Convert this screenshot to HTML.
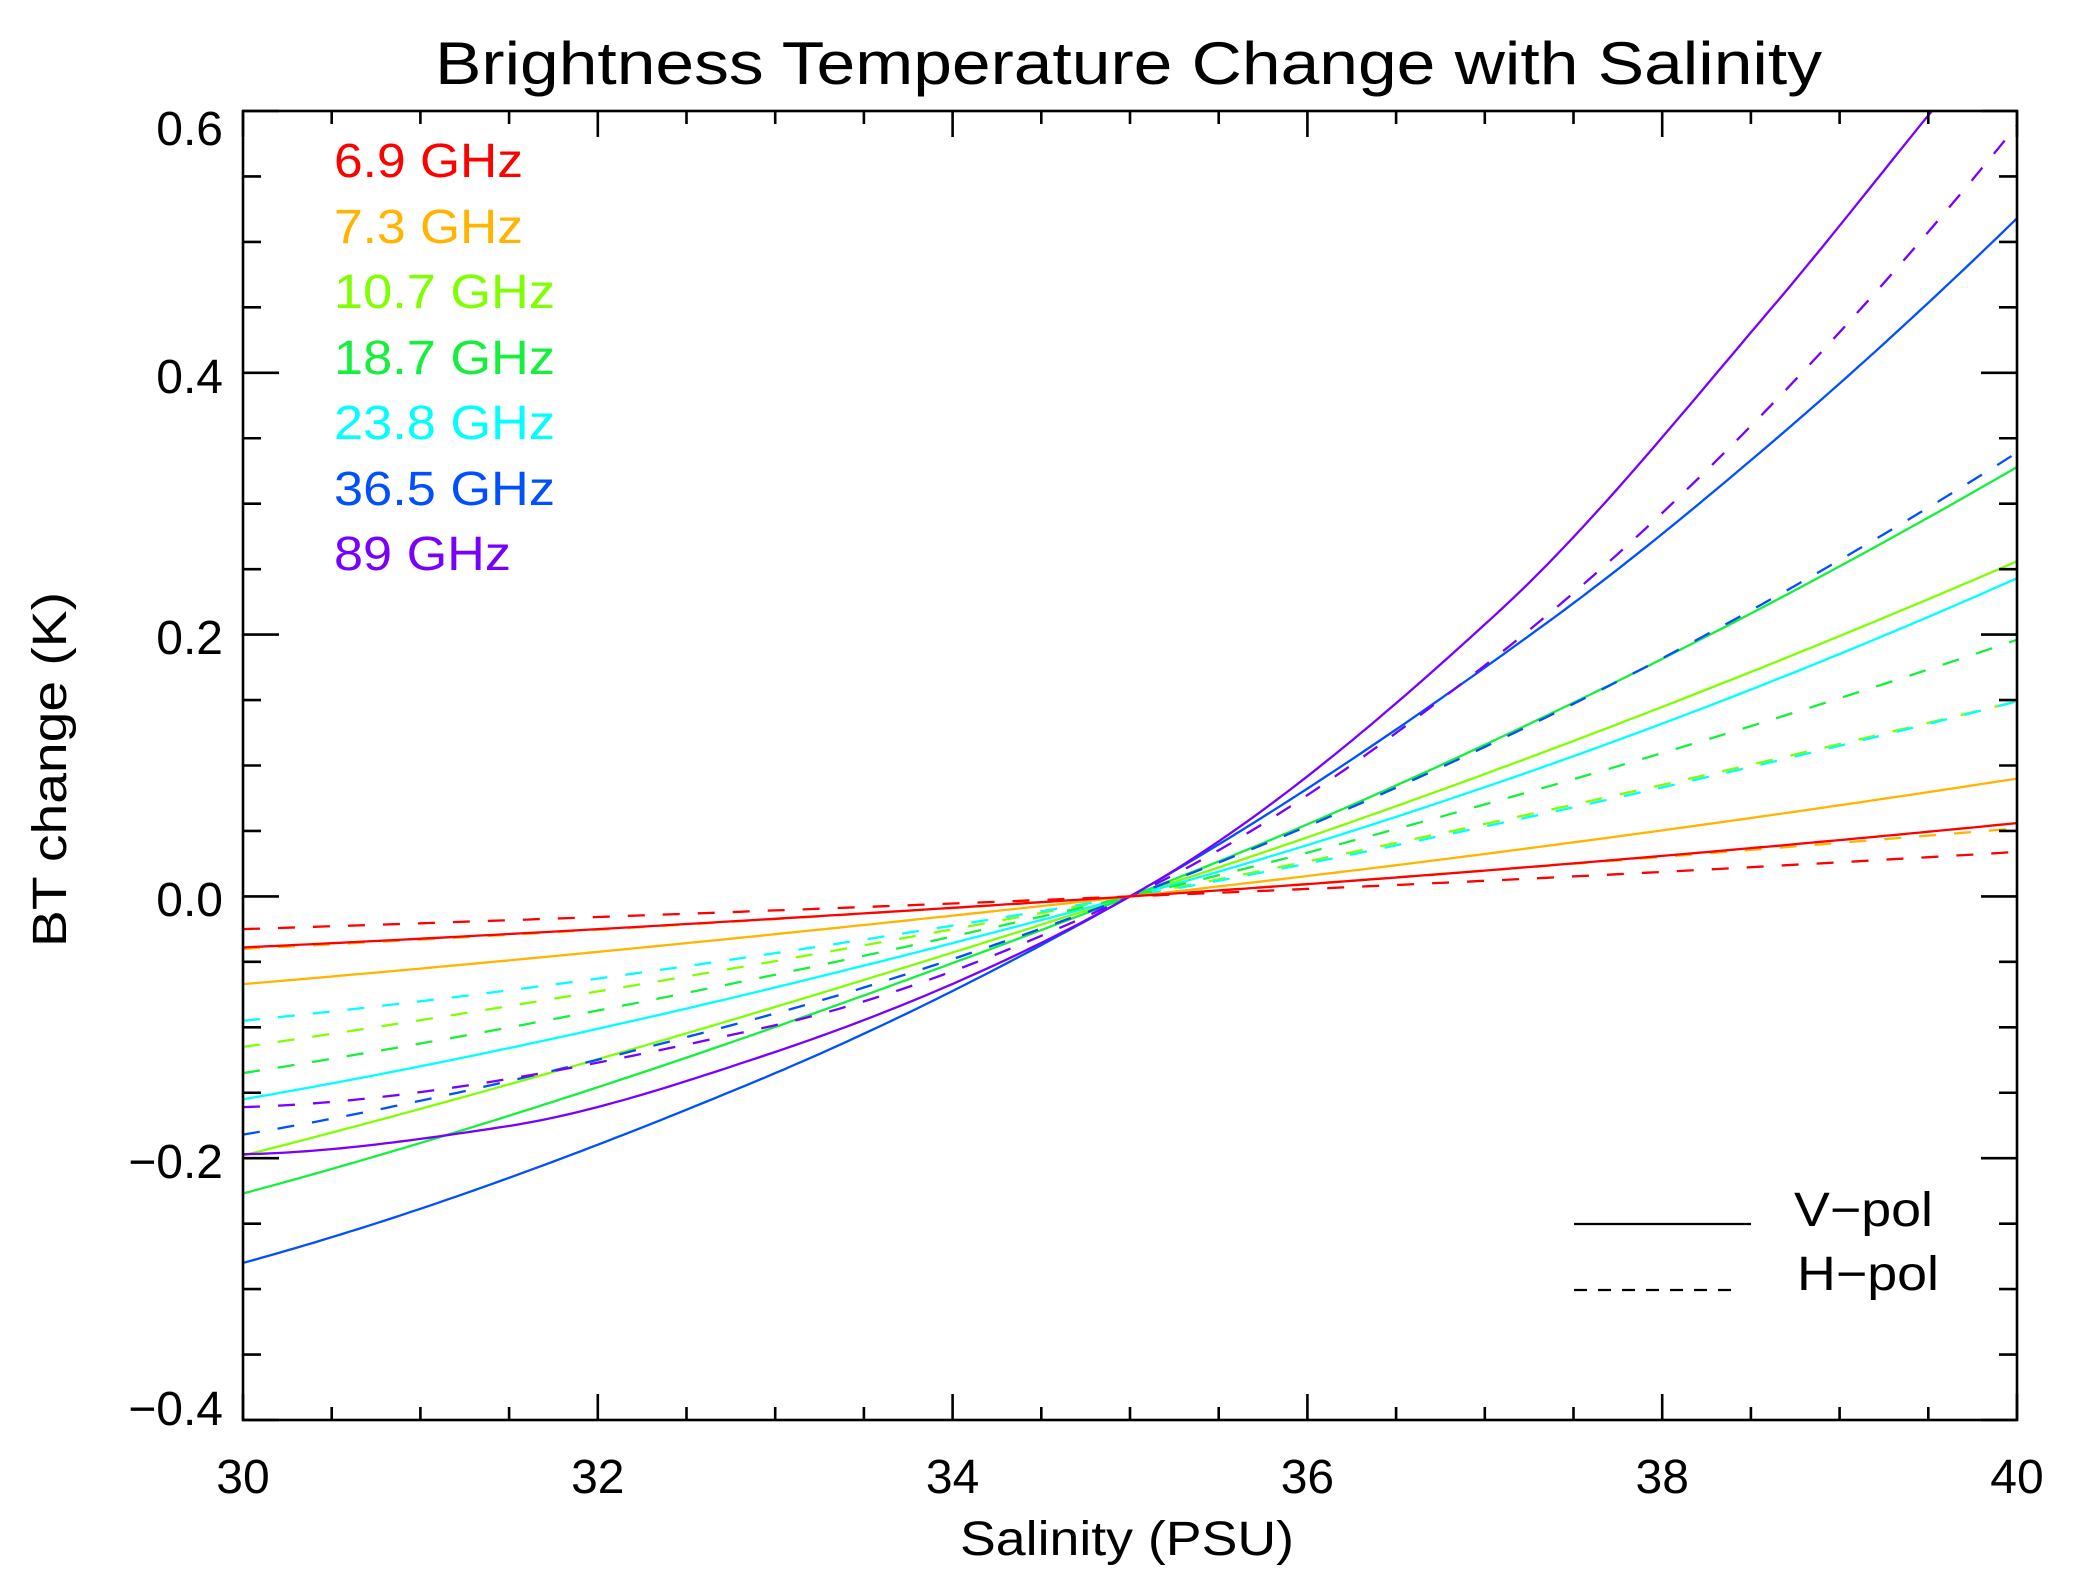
<!DOCTYPE html>
<html><head><meta charset="utf-8">
<style>
html,body{margin:0;padding:0;background:#fff;}
svg{display:block;}
text{font-family:"Liberation Sans",sans-serif;fill:#000;}
</style></head>
<body>
<svg id="s" width="2092" height="1588" viewBox="0 0 2092 1588" xmlns="http://www.w3.org/2000/svg">
<defs><clipPath id="cp"><rect x="243" y="111" width="1774" height="1309"/></clipPath></defs>
<rect width="2092" height="1588" fill="#fff"/>
<text x="435" y="84" font-size="60" textLength="1387" lengthAdjust="spacingAndGlyphs">Brightness Temperature Change with Salinity</text>
<g id="curves" clip-path="url(#cp)" fill="none" stroke-width="2.3"></g>
<g id="axes" stroke="#000" stroke-width="2.6" fill="none"></g>
<g font-size="48">
<text x="223" y="145" text-anchor="end">0.6</text>
<text x="223" y="393" text-anchor="end">0.4</text>
<text x="223" y="654" text-anchor="end">0.2</text>
<text x="223" y="916" text-anchor="end">0.0</text>
<text x="223" y="1178" text-anchor="end">−0.2</text>
<text x="223" y="1425" text-anchor="end">−0.4</text>
<text x="243" y="1493" text-anchor="middle">30</text>
<text x="597.8" y="1493" text-anchor="middle">32</text>
<text x="952.6" y="1493" text-anchor="middle">34</text>
<text x="1307.4" y="1493" text-anchor="middle">36</text>
<text x="1662.2" y="1493" text-anchor="middle">38</text>
<text x="2017" y="1493" text-anchor="middle">40</text>
<text x="960" y="1555" textLength="334" lengthAdjust="spacingAndGlyphs">Salinity (PSU)</text>
<text transform="translate(66,947) rotate(-90)" textLength="355" lengthAdjust="spacingAndGlyphs">BT change (K)</text>
<text x="334" y="177" style="fill:#ff0000" textLength="189" lengthAdjust="spacingAndGlyphs">6.9 GHz</text>
<text x="334" y="243" style="fill:#ffb400" textLength="189" lengthAdjust="spacingAndGlyphs">7.3 GHz</text>
<text x="334" y="308" style="fill:#80ff00" textLength="221" lengthAdjust="spacingAndGlyphs">10.7 GHz</text>
<text x="334" y="374" style="fill:#14f03c" textLength="221" lengthAdjust="spacingAndGlyphs">18.7 GHz</text>
<text x="334" y="439" style="fill:#00ffff" textLength="221" lengthAdjust="spacingAndGlyphs">23.8 GHz</text>
<text x="334" y="505" style="fill:#0050ff" textLength="221" lengthAdjust="spacingAndGlyphs">36.5 GHz</text>
<text x="334" y="570" style="fill:#7800ff" textLength="177" lengthAdjust="spacingAndGlyphs">89 GHz</text>
<text x="1794" y="1226" textLength="139" lengthAdjust="spacingAndGlyphs">V−pol</text>
<text x="1797" y="1290" textLength="142" lengthAdjust="spacingAndGlyphs">H−pol</text>
</g>
<line x1="1574" y1="1224" x2="1751" y2="1224" stroke="#000" stroke-width="2.3"/>
<line x1="1574" y1="1290" x2="1740" y2="1290" stroke="#000" stroke-width="2.3" stroke-dasharray="13 11"/>
</svg>
<script>
(function(){
var NS="http://www.w3.org/2000/svg";
var L=243,R=2017,T=111,B=1420;
function X(x){return L+(x-30)*177.4;}
function Y(v){return 896.4-v*1309;}
var ax=document.getElementById("axes");
function ln(x1,y1,x2,y2){var e=document.createElementNS(NS,"line");e.setAttribute("x1",x1);e.setAttribute("y1",y1);e.setAttribute("x2",x2);e.setAttribute("y2",y2);ax.appendChild(e);}
var r=document.createElementNS(NS,"rect");r.setAttribute("x",L);r.setAttribute("y",T);r.setAttribute("width",R-L);r.setAttribute("height",B-T);ax.appendChild(r);
for(var i=0;i<=20;i++){var x=X(30+i*0.5);var len=(i%4==0)?26:13;ln(x,B,x,B-len);ln(x,T,x,T+len);}
for(var i=0;i<=20;i++){var y=Y(-0.4+i*0.05);var len=(i%4==0)?36:18;ln(L,y,L+len,y);ln(R,y,R-len,y);}
function pchip(pts){
 var n=pts.length,xs=pts.map(p=>p[0]),ys=pts.map(p=>p[1]),h=[],del=[],m=[];
 for(var i=0;i<n-1;i++){h[i]=xs[i+1]-xs[i];del[i]=(ys[i+1]-ys[i])/h[i];}
 m[0]=del[0];m[n-1]=del[n-2];
 for(var i=1;i<n-1;i++){
  if(del[i-1]*del[i]<=0)m[i]=0;else{var w1=2*h[i]+h[i-1],w2=h[i]+2*h[i-1];m[i]=(w1+w2)/(w1/del[i-1]+w2/del[i]);}
 }
 // better end slopes
 if(n>2){m[0]=((2*h[0]+h[1])*del[0]-h[0]*del[1])/(h[0]+h[1]);if(m[0]*del[0]<=0)m[0]=0;
  var k=n-2;m[n-1]=((2*h[k]+h[k-1])*del[k]-h[k]*del[k-1])/(h[k]+h[k-1]);if(m[n-1]*del[k]<=0)m[n-1]=0;}
 return function(x){var j=0;while(j<n-2&&x>xs[j+1])j++;var t=(x-xs[j])/h[j],hh=h[j];
  var t2=t*t,t3=t2*t;return (2*t3-3*t2+1)*ys[j]+(t3-2*t2+t)*hh*m[j]+(-2*t3+3*t2)*ys[j+1]+(t3-t2)*hh*m[j+1];};
}
var C={r:"#ff0000",o:"#ffb400",y:"#80ff00",g:"#14f03c",c:"#00ffff",b:"#0050ff",p:"#7800ff"};
var S=[
["y",1,[[-5,-0.198],[0,0],[2.09,0.098],[5,0.256]]],
["y",0,[[-5,-0.115],[0,0],[2.09,0.058],[5,0.149]]],
["c",1,[[-5,-0.155],[0,0],[2.09,0.0876],[5,0.243]]],
["c",0,[[-5,-0.095],[0,0],[2.09,0.056],[5,0.149]]],
["g",1,[[-5,-0.227],[0,0],[2.09,0.1215],[5,0.328]]],
["g",0,[[-5,-0.135],[0,0],[2.09,0.0737],[5,0.196]]],
["b",1,[[-5,-0.280],[-2.07,-0.139],[0,0],[2.37,0.211],[3.62,0.347],[5,0.518]]],
["b",0,[[-5,-0.182],[-2.07,-0.092],[0,0],[2.09,0.12],[5,0.339]]],
["p",0,[[-5,-0.161],[-2.07,-0.1006],[0,0],[2.09,0.186],[5,0.589]]],
["p",1,[[-5,-0.197],[-3.53,-0.176],[-2.07,-0.122],[0,0],[2.09,0.219],[3.62,0.45],[4.52,0.6],[5,0.68]]],
["o",1,[[-5,-0.067],[0,0],[2.09,0.034],[5,0.090]]],
["o",0,[[-5,-0.040],[0,0],[2.09,0.0207],[5,0.052]]],
["r",1,[[-5,-0.039],[0,0],[2.09,0.0207],[5,0.056]]],
["r",0,[[-5,-0.025],[0,0],[2.09,0.0125],[5,0.034]]]
];
var g=document.getElementById("curves");
S.forEach(function(s){
 var f=pchip(s[2]);var d="";
 for(var k=0;k<=200;k++){var dd=-5+k*0.05;d+=(k?"L":"M")+X(35+dd).toFixed(1)+" "+Y(f(dd)).toFixed(1);}
 var p=document.createElementNS(NS,"path");p.setAttribute("d",d);p.setAttribute("stroke",C[s[0]]);
 if(!s[1])p.setAttribute("stroke-dasharray","17 18");
 g.appendChild(p);
});
})();
</script>
</body></html>
